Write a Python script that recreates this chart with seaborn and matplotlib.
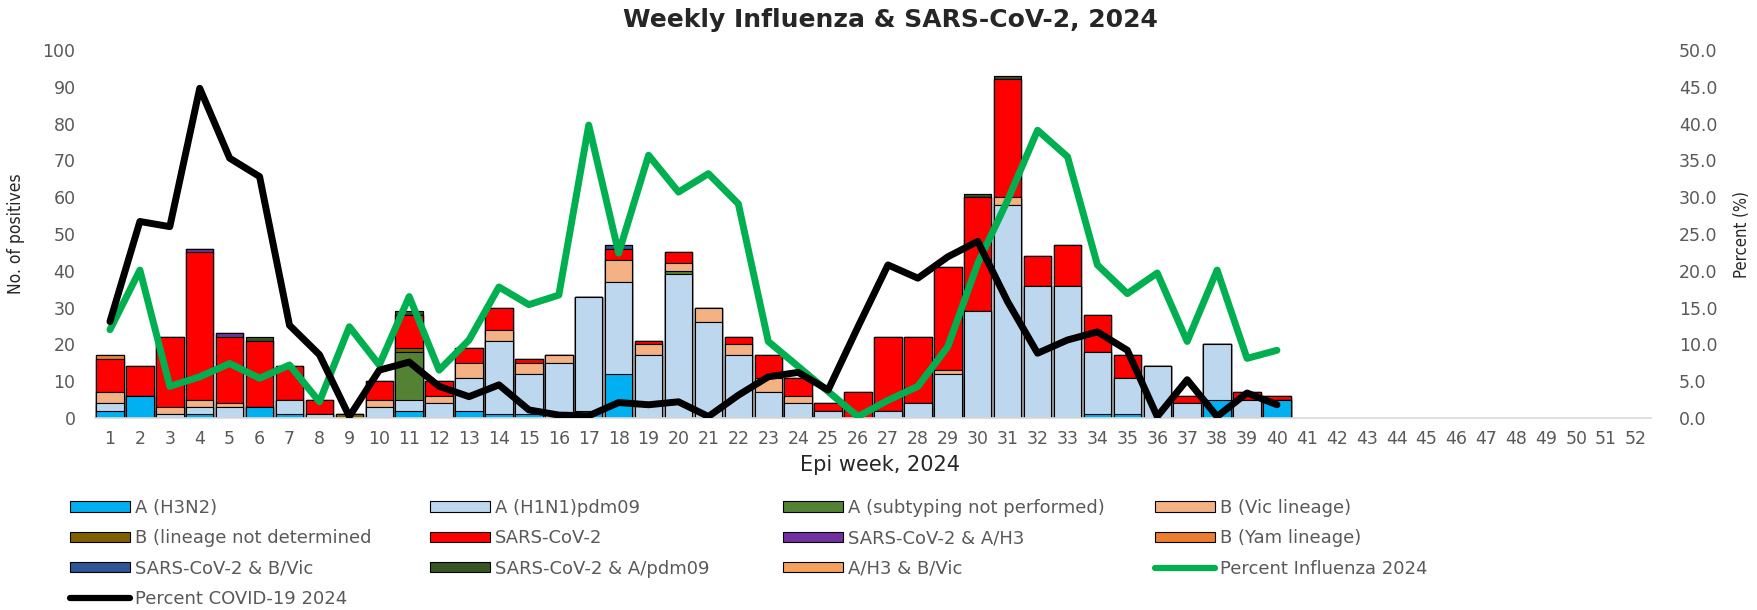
import numpy as np
import pandas as pd
import matplotlib.pyplot as plt
import seaborn as sns
from matplotlib.patches import Patch
from matplotlib.lines import Line2D

sns.set_theme(style="white")
plt.rcParams['font.family'] = ['DejaVu Sans']

# epi weeks with data (1-40); axis runs to week 52
weeks = list(range(1, 41))
all_weeks = list(range(1, 53))

h3n2 = [2, 6, 0, 1, 0, 3, 1, 0, 0, 0, 2, 0, 2, 1, 1, 0, 2, 12, 0, 0,
        0, 0, 0, 0, 0, 0, 0, 0, 0, 0, 0, 0, 0, 1, 1, 0, 0, 5, 0, 5]
h1n1 = [2, 0, 1, 2, 3, 0, 4, 1, 0, 3, 3, 4, 9, 20, 11, 15, 31, 25, 17, 39,
        26, 17, 7, 4, 2, 0, 2, 4, 12, 29, 58, 36, 36, 17, 10, 14, 4, 15, 5, 0]
a_unsub = [0, 0, 0, 0, 0, 0, 0, 0, 0, 0, 13, 0, 0, 0, 0, 0, 0, 0, 0, 1,
           0, 0, 0, 0, 0, 0, 0, 0, 0, 0, 0, 0, 0, 0, 0, 0, 0, 0, 0, 0]
b_vic = [3, 0, 2, 2, 1, 0, 0, 0, 0, 2, 0, 2, 4, 3, 3, 2, 0, 6, 3, 2,
         4, 3, 4, 2, 0, 0, 0, 0, 1, 0, 2, 0, 0, 0, 0, 0, 0, 0, 0, 0]
b_lnd = [0, 0, 0, 0, 0, 0, 0, 0, 1, 0, 1, 0, 0, 0, 0, 0, 0, 0, 0, 0,
         0, 0, 0, 0, 0, 0, 0, 0, 0, 0, 0, 0, 0, 0, 0, 0, 0, 0, 0, 0]
sars = [9, 8, 19, 40, 18, 18, 9, 4, 0, 5, 9, 4, 4, 6, 1, 0, 0, 3, 1, 3,
        0, 2, 6, 5, 2, 7, 20, 18, 28, 31, 32, 8, 11, 10, 6, 0, 2, 0, 2, 1]
sars_h3 = [0, 0, 0, 1, 1, 0, 0, 0, 0, 0, 0, 0, 0, 0, 0, 0, 0, 0, 0, 0,
           0, 0, 0, 0, 0, 0, 0, 0, 0, 0, 0, 0, 0, 0, 0, 0, 0, 0, 0, 0]
b_yam = [1, 0, 0, 0, 0, 0, 0, 0, 0, 0, 0, 0, 0, 0, 0, 0, 0, 0, 0, 0,
         0, 0, 0, 0, 0, 0, 0, 0, 0, 0, 0, 0, 0, 0, 0, 0, 0, 0, 0, 0]
sars_bvic = [0, 0, 0, 0, 0, 0, 0, 0, 0, 0, 0, 0, 0, 0, 0, 0, 0, 1, 0, 0,
             0, 0, 0, 0, 0, 0, 0, 0, 0, 0, 0, 0, 0, 0, 0, 0, 0, 0, 0, 0]
sars_pdm = [0, 0, 0, 0, 0, 1, 0, 0, 0, 0, 1, 0, 0, 0, 0, 0, 0, 0, 0, 0,
            0, 0, 0, 0, 0, 0, 0, 0, 0, 1, 1, 0, 0, 0, 0, 0, 0, 0, 0, 0]
h3_bvic = [0] * 40

pct_flu = [12.0, 20.1, 4.3, 5.6, 7.4, 5.4, 7.2, 2.2, 12.4, 7.2, 16.5, 6.5, 10.6, 17.8,
           15.4, 16.7, 39.8, 22.4, 35.7, 30.7, 33.2, 29.1, 10.4, 7.0, 3.6, 0.2, 2.4,
           4.3, 9.7, 21.0, 29.6, 39.1, 35.5, 20.8, 16.9, 19.7, 10.4, 20.1, 8.1, 9.2]
pct_cov = [13.1, 26.7, 26.0, 44.8, 35.3, 32.8, 12.6, 8.6, 0.2, 6.5, 7.6, 4.3, 2.9, 4.5,
           1.1, 0.4, 0.3, 2.1, 1.8, 2.2, 0.2, 3.1, 5.6, 6.2, 3.8, 12.4, 20.8, 19.0,
           21.9, 24.0, 15.8, 8.8, 10.6, 11.7, 9.2, 0.2, 5.2, 0.2, 3.4, 1.8]

series = [
    ("A (H3N2)", h3n2, "#00B0F0"),
    ("A (H1N1)pdm09", h1n1, "#BDD7EE"),
    ("A (subtyping not performed)", a_unsub, "#548235"),
    ("B (Vic lineage)", b_vic, "#F4B183"),
    ("B (lineage not determined", b_lnd, "#7F6000"),
    ("SARS-CoV-2", sars, "#FF0000"),
    ("SARS-CoV-2 & A/H3", sars_h3, "#7030A0"),
    ("B (Yam lineage)", b_yam, "#ED7D31"),
    ("SARS-CoV-2 & B/Vic", sars_bvic, "#2F5597"),
    ("SARS-CoV-2 & A/pdm09", sars_pdm, "#375623"),
    ("A/H3 & B/Vic", h3_bvic, "#F4A15D"),
]
flu_color = "#00B050"
cov_color = "#000000"
gray = "#595959"

df = pd.DataFrame({name: vals for name, vals, _ in series}, index=weeks)
cum = df.cumsum(axis=1)

fig = plt.figure(figsize=(17.58, 6.10), dpi=100)
ax = fig.add_axes([95 / 1758, 1 - 418 / 610, 1556 / 1758, 368 / 610])

# stacked bars: draw cumulative totals from the top layer down
for name, _, color in reversed(series):
    sns.barplot(x=weeks, y=cum[name].values, order=all_weeks, color=color,
                saturation=1, edgecolor="black", linewidth=0.8, width=0.92, ax=ax)

ax.set_xlim(-0.5, 51.5)
ax.set_ylim(0, 100)
ax.set_yticks(range(0, 101, 10))
ax.tick_params(axis="y", length=0, pad=14, labelsize=12.5, labelcolor=gray)
ax.tick_params(axis="x", length=0, pad=9, labelsize=12.5, labelcolor=gray)
ax.set_xlabel("")
ax.set_ylabel("No. of positives", fontsize=12.5, fontstretch="condensed", color="#262626")
ax.yaxis.set_label_coords(-0.045, 0.5)
for s in ["top", "left", "right"]:
    ax.spines[s].set_visible(False)
ax.spines["bottom"].set_color("#D9D9D9")
ax.spines["bottom"].set_linewidth(1.2)

ax2 = ax.twinx()
xpos = np.arange(len(weeks))
sns.lineplot(x=xpos, y=pct_flu, color=flu_color, linewidth=5, ax=ax2,
             solid_joinstyle="round", solid_capstyle="round")
sns.lineplot(x=xpos, y=pct_cov, color=cov_color, linewidth=5, ax=ax2,
             solid_joinstyle="round", solid_capstyle="round")
ax2.set_ylim(0, 50)
ax2.set_yticks(np.arange(0, 51, 5))
ax2.set_yticklabels([f"{v:.1f}" for v in np.arange(0, 51, 5)])
ax2.tick_params(axis="y", length=0, pad=20, labelsize=12.5, labelcolor=gray)
ax2.set_ylabel("Percent (%)", fontsize=12, fontstretch="condensed", color="#262626")
ax2.yaxis.set_label_coords(1.053, 0.5)
for s in ["top", "left", "right", "bottom"]:
    ax2.spines[s].set_visible(False)
ax2.grid(False)
ax.grid(False)

fig.text(890 / 1758, 1 - 20 / 610, "Weekly Influenza & SARS-CoV-2, 2024",
         ha="center", va="center", fontsize=18, fontweight="bold")
fig.text(880 / 1758, 1 - 465 / 610, "Epi week, 2024", ha="center", va="center",
         fontsize=15, color="#262626")

# legend laid out row by row in four fixed columns
handles = [Patch(facecolor=c, edgecolor="black", linewidth=0.8) for _, _, c in series]
labels = [n for n, _, _ in series]
handles += [Line2D([], [], color=flu_color, lw=4.5), Line2D([], [], color=cov_color, lw=4.5)]
labels += ["Percent Influenza 2024", "Percent COVID-19 2024"]
col_x = [70, 430, 783, 1155]
for c in range(4):
    idx = list(range(c, len(labels), 4))
    leg = fig.legend([handles[i] for i in idx], [labels[i] for i in idx],
                     loc="upper left", bbox_to_anchor=(col_x[c] / 1758, 1 - 499 / 610),
                     frameon=False, fontsize=13, handlelength=3.3, handleheight=0.5,
                     handletextpad=0.3, labelspacing=0.68, borderpad=0, borderaxespad=0)
    for t in leg.get_texts():
        t.set_color(gray)

fig.savefig("out.png", dpi=100)
